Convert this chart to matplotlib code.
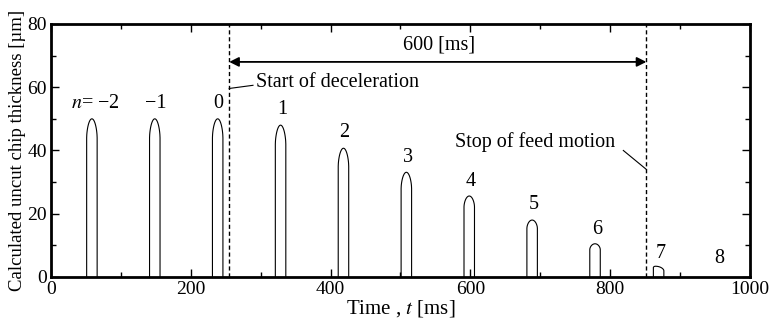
import numpy as np
import matplotlib
matplotlib.use("Agg")
import matplotlib.pyplot as plt
from matplotlib.ticker import MultipleLocator

plt.rcParams['font.family'] = ['Liberation Serif', 'DejaVu Serif']
plt.rcParams['mathtext.fontset'] = 'stix'

# Pulse (cut) data: n = -2 .. 7
pulse_start = [51, 141, 231, 321, 411, 501, 591, 681, 771, 862]
pulse_end = [66, 156, 246, 336, 426, 516, 606, 696, 786, 877]
pulse_peak_t = [58.5, 148.5, 238.5, 328.5, 418.5, 508.5, 598.5, 688.5, 778.5, 865]
pulse_peak = [50, 50, 50, 48, 40.7, 33.1, 25.6, 18, 10.5, 3.4]
shoulder_left = [44, 44, 44, 42, 35, 28, 22.2, 15.4, 8.7, 3.0]
shoulder_right = [44, 44, 44, 42, 35, 28, 22.2, 15.4, 8.7, 2.0]

# cut number labels
label_text = ['$n$= \u22122', '\u22121', '0', '1', '2', '3', '4', '5', '6', '7', '8']
label_x = [64, 150, 239, 331, 420, 511, 600, 691, 781, 872, 956]
label_y = [55, 55, 55, 52.8, 45.6, 37.9, 30.1, 23, 14.9, 7.3, 5.9]

t_decel = 255
t_stop = 852


def pulse_outline(a, b, tp, h, sl, sr, n=40):
    # vertical sides with an arched top
    ul = np.linspace(-1, 0, n)
    ur = np.linspace(0, 1, n)[1:]
    xl = tp + ul * (tp - a)
    xr = tp + ur * (b - tp)
    yl = sl + (h - sl) * (1 - ul ** 2) ** 0.6
    yr = sr + (h - sr) * (1 - ur ** 2) ** 0.6
    x = np.concatenate([[a], xl, xr, [b]])
    y = np.concatenate([[0], yl, yr, [0]])
    return x, y


fig = plt.figure(figsize=(7.73, 3.28), dpi=100)
ax = fig.add_axes([0.066, 0.1555, 0.904, 0.7715])

for i in range(len(pulse_start)):
    x, y = pulse_outline(pulse_start[i], pulse_end[i], pulse_peak_t[i],
                         pulse_peak[i], shoulder_left[i], shoulder_right[i])
    ax.plot(x, y, color='black', lw=0.8)

for s, x, y in zip(label_text, label_x, label_y):
    ax.text(x, y, s, ha='center', va='center', fontsize=14.5)

ax.axvline(t_decel, color='black', lw=1, ls=(0, (3, 2)))
ax.axvline(t_stop, color='black', lw=1, ls=(0, (3, 2)))

ax.annotate('', xy=(t_decel, 68), xytext=(t_stop, 68),
            arrowprops=dict(arrowstyle='<|-|>', color='black', lw=1.3,
                            mutation_scale=14, shrinkA=0, shrinkB=0))
ax.text(555, 73.4, '600 [ms]', ha='center', va='center', fontsize=14.5)

ax.plot([t_decel, 289], [59.6, 60.6], color='black', lw=0.8)
ax.text(294, 61.5, 'Start of deceleration', ha='left', va='center', fontsize=14.5)

ax.plot([819, t_stop], [40, 34], color='black', lw=0.8)
ax.text(578, 42.8, 'Stop of feed motion', ha='left', va='center', fontsize=14.5)

ax.set_xlim(0, 1000)
ax.set_ylim(0, 80)
ax.xaxis.set_major_locator(MultipleLocator(200))
ax.xaxis.set_minor_locator(MultipleLocator(100))
ax.yaxis.set_major_locator(MultipleLocator(20))
ax.yaxis.set_minor_locator(MultipleLocator(10))
ax.tick_params(which='both', direction='in', top=True, right=True,
               labelsize=14, pad=3)
ax.tick_params(which='major', length=6, width=1)
ax.tick_params(which='minor', length=3.5, width=1)
for sp in ax.spines.values():
    sp.set_linewidth(2.0)

ax.set_xlabel('Time , $t$ [ms]', fontsize=15, labelpad=0)
ax.set_ylabel('Calculated uncut chip thickness [\u00b5m]', fontsize=13.5, labelpad=1)

fig.savefig('out.png', dpi=100)
